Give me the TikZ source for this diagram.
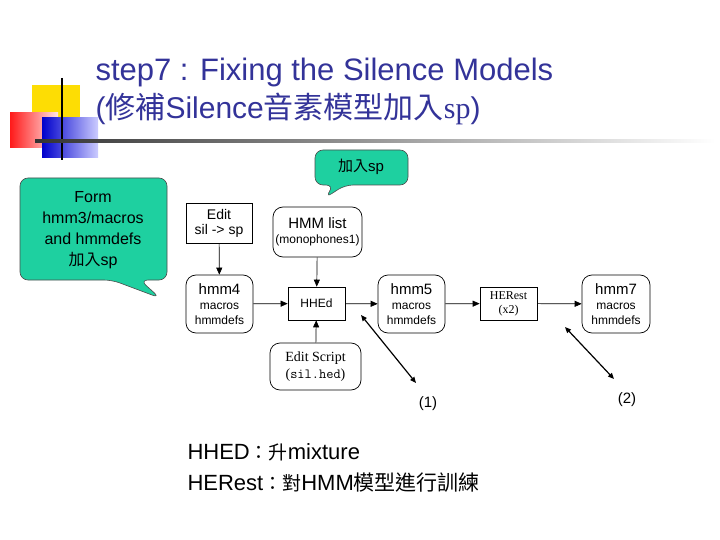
\documentclass[tikz,border=0pt]{standalone}
\usepackage{fontspec}
\setmainfont{Liberation Sans}
\newfontfamily\cjk{Noto Sans CJK TC}
\newfontfamily\serifb{Liberation Serif}
\usetikzlibrary{arrows.meta}
\definecolor{ttl}{RGB}{51,51,153}
\definecolor{callg}{RGB}{30,208,160}
\begin{document}
\begin{tikzpicture}[x=1pt,y=-1pt,
  sq/.style={draw,line width=0.7pt,align=center,inner sep=0pt},
  rd/.style={draw,line width=0.7pt,rounded corners=10pt,align=center,inner sep=0pt},
  arr/.style={-{Triangle[length=7pt,width=6pt]},line width=0.7pt},
  dbl/.style={{Triangle[length=6pt,width=5pt]}-{Triangle[length=6pt,width=5pt]},line width=1.2pt},
  call/.style={fill=callg,draw=black!70,line width=0.6pt,rounded corners=8pt},
  fa/.style={font=\fontsize{14}{15}\selectfont},
  fb/.style={font=\fontsize{12}{15}\selectfont}]
\useasboundingbox (0,0) rectangle (720,540);
\fill[white] (0,0) rectangle (720,540);
% decoration
\fill[yellow!80!orange] (32,85) rectangle (80,128);
\shade[left color=red!90,right color=red!10] (10,113) rectangle (58,148);
\shade[left color=blue!80!black,right color=blue!20] (42,118) rectangle (98,158);
\draw[line width=1.2pt] (62,78) -- (62,160);
\shade[left color=black!80,right color=white] (35,140) rectangle (715,142.5);
\node[anchor=west,text=ttl,font=\fontsize{31}{33}\selectfont] (t1) at (92,72) {step7 : Fixing the Silence Models};
\node[anchor=west,text=ttl,font=\fontsize{30}{32}\selectfont] (t2) at (92,109) {(\cjk 修補\rmfamily Silence\cjk 音素模型加入\serifb sp\rmfamily)};
% callouts
\draw[call] (315,150) -- (408,150) -- (408,185) -- (345,185) -- (325,198) -- (334,185) -- (315,185) -- cycle;
\node[font=\fontsize{15}{16}\selectfont] (c1) at (361,167) {\cjk 加入\rmfamily sp};
\draw[call] (20,178) -- (167,178) -- (167,280) -- (140,280) -- (160,298) -- (112,280) -- (20,280) -- cycle;
\node[align=center,font=\fontsize{16}{21}\selectfont] (c2) at (93,230) {Form\\hmm3/macros\\and hmmdefs\\{\cjk 加入}sp};
% nodes
\node[sq,fa,minimum width=66pt,minimum height=40pt] (edit) at (219,223) {Edit\\sil -> sp};
\node[rd,fb,minimum width=89pt,minimum height=50pt] (list) at (317.5,232) {{\fontsize{15}{17}\selectfont HMM list}\\(monophones1)};
\node[rd,fb,minimum width=67pt,minimum height=58pt] (h4) at (219.5,304) {{\fontsize{15}{17}\selectfont hmm4}\\macros\\hmmdefs};
\node[sq,fb,minimum width=57pt,minimum height=33pt] (hhed) at (316.5,303.5) {HHE\textsc{d}};
\node[rd,fb,minimum width=67pt,minimum height=58pt] (h5) at (411.5,304) {{\fontsize{15}{17}\selectfont hmm5}\\macros\\hmmdefs};
\node[sq,minimum width=57pt,minimum height=33pt,font=\serifb\fontsize{12}{14}\selectfont] (her) at (508.5,303.5) {HER\textsc{est}\\(x2)};
\node[rd,fb,minimum width=68pt,minimum height=58pt] (h7) at (616,304) {{\fontsize{15}{17}\selectfont hmm7}\\macros\\hmmdefs};
\node[rd,minimum width=91pt,minimum height=47pt,font=\serifb\fontsize{14}{17}\selectfont] (es) at (315.5,366.5) {Edit Script\\(\texttt{sil.hed})};
\draw[arr] (edit) -- (h4);
\draw[arr] (list) -- (hhed);
\draw[arr] (es) -- (hhed);
\draw[arr] (h4) -- (hhed);
\draw[arr] (hhed) -- (h5);
\draw[arr] (h5) -- (her);
\draw[arr] (her) -- (h7);
\coordinate (a1) at (361,315); \coordinate (b1) at (416,383);
\coordinate (a2) at (565,327); \coordinate (b2) at (614,379);
\draw[dbl] (a1) -- (b1);
\draw[dbl] (a2) -- (b2);
\node[font=\fontsize{15}{16}\selectfont] (l1) at (428,404) {(1)};
\node[font=\fontsize{15}{16}\selectfont] (l2) at (627,400) {(2)};
\node[anchor=west,font=\fontsize{22}{24}\selectfont] (n1) at (184,452) {HHED{\cjk\fontsize{19}{20}\selectfont ：升}mixture};
\node[anchor=west,font=\fontsize{22}{24}\selectfont] (n2) at (184,483) {HERest{\cjk\fontsize{19}{20}\selectfont ：對}HMM{\cjk\fontsize{21}{22}\selectfont 模型進行訓練}};
\end{tikzpicture}
\end{document}
